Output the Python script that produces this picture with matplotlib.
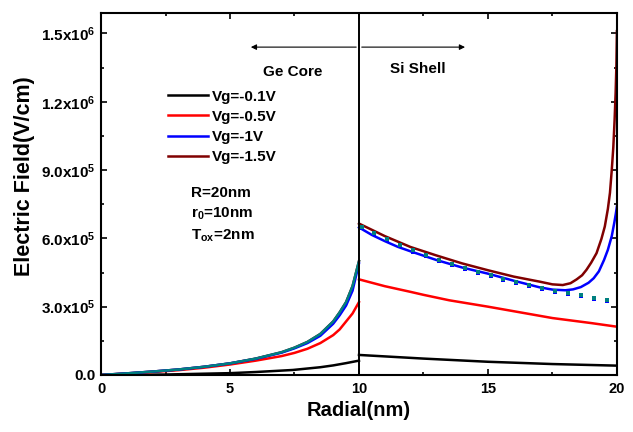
import matplotlib
matplotlib.use("Agg")
import matplotlib.pyplot as plt
from matplotlib.ticker import MultipleLocator, FixedLocator, FixedFormatter

plt.rcParams['font.family'] = ['Liberation Sans', 'DejaVu Sans']
plt.rcParams['font.weight'] = 'bold'
plt.rcParams['mathtext.fontset'] = 'custom'
plt.rcParams['mathtext.rm'] = 'Liberation Sans:bold'
plt.rcParams['mathtext.bf'] = 'Liberation Sans:bold'
plt.rcParams['mathtext.it'] = 'Liberation Sans:bold'

# ---- data (E in units of 1e6 V/cm) ----
# core region (0..10 nm)
core_x_black = [0, 2.5, 5, 6, 7.44, 8.5, 9, 9.5, 10]
core_black = [0, 0.002, 0.008, 0.013, 0.022, 0.034, 0.042, 0.052, 0.063]

core_x = [0, 1, 2, 3, 4, 5, 6, 7, 7.5, 8, 8.5, 9, 9.25, 9.5, 9.75, 10]
core_red = [0, 0.006, 0.013, 0.021, 0.032, 0.046, 0.063, 0.083, 0.097, 0.115, 0.14, 0.175, 0.2, 0.235, 0.27, 0.32]
core_blue = [0, 0.007, 0.015, 0.024, 0.036, 0.051, 0.071, 0.098, 0.117, 0.14, 0.172, 0.225, 0.262, 0.305, 0.37, 0.49]
core_darkred = [0, 0.007, 0.015, 0.024, 0.036, 0.051, 0.072, 0.1, 0.12, 0.145, 0.18, 0.235, 0.275, 0.32, 0.39, 0.50]
core_teal = [0, 0.007, 0.015, 0.024, 0.036, 0.051, 0.072, 0.1, 0.12, 0.145, 0.18, 0.235, 0.275, 0.32, 0.39, 0.50]

# shell region (10..20 nm)
shell_x_black = [10, 12.5, 15, 17.5, 20]
shell_black = [0.088, 0.072, 0.058, 0.048, 0.041]

shell_x_red = [10, 11, 12, 12.5, 13.5, 15, 16, 17.5, 19, 20]
shell_red = [0.42, 0.39, 0.365, 0.352, 0.328, 0.30, 0.28, 0.25, 0.228, 0.212]

shell_x_blue = [10, 10.5, 11, 11.5, 12, 13, 14, 15, 16, 17, 17.5, 18, 18.3, 18.6, 18.9,
                19.1, 19.3, 19.5, 19.65, 19.8, 19.9, 19.96, 20]
shell_blue = [0.648, 0.615, 0.588, 0.563, 0.543, 0.505, 0.472, 0.445, 0.414, 0.385, 0.375, 0.372,
              0.376, 0.386, 0.405, 0.425, 0.455, 0.505, 0.55, 0.61, 0.67, 0.71, 0.74]

shell_x_darkred = [10, 11, 12, 13, 14, 15, 16, 17, 17.5, 17.9, 18.2, 18.44, 18.65, 18.82, 19.0,
                   19.21, 19.4, 19.53, 19.65, 19.73, 19.8, 19.86, 19.91, 19.95, 19.98, 20]
shell_darkred = [0.665, 0.61, 0.562, 0.525, 0.49, 0.46, 0.432, 0.41, 0.398, 0.395, 0.403, 0.42, 0.438,
                 0.462, 0.493, 0.535, 0.598, 0.652, 0.73, 0.80, 0.90, 1.0, 1.12, 1.24, 1.36, 1.51]

dot_x = [10.1, 10.6, 11.1, 11.6, 12.1, 12.6, 13.1, 13.6, 14.1, 14.6,
         15.1, 15.6, 16.1, 16.6, 17.1, 17.6, 18.1, 18.6, 19.1, 19.6]
dot_blue = [0.645, 0.618, 0.592, 0.567, 0.542, 0.521, 0.501, 0.483, 0.466, 0.449,
            0.433, 0.415, 0.402, 0.39, 0.376, 0.366, 0.355, 0.345, 0.334, 0.326]
dot_teal = [0.652, 0.624, 0.598, 0.573, 0.548, 0.527, 0.507, 0.489, 0.471, 0.454,
            0.438, 0.42, 0.407, 0.395, 0.381, 0.371, 0.36, 0.35, 0.339, 0.331]

legend_labels = ['Vg=-0.1V', 'Vg=-0.5V', 'Vg=-1V', 'Vg=-1.5V']
ytick_vals = [0, 0.3, 0.6, 0.9, 1.2, 1.5]
ytick_labels = ['0.0', r'3.0x10$^{5}$', r'6.0x10$^{5}$', r'9.0x10$^{5}$', r'1.2x10$^{6}$', r'1.5x10$^{6}$']
xtick_vals = [0, 5, 10, 15, 20]

S = 1e6

fig = plt.figure(figsize=(6.33, 4.32), dpi=100)
ax = fig.add_axes([0.1596, 0.132, 0.815, 0.838])

lw = 1.8
c_black, c_red, c_blue, c_dr, c_teal = 'black', '#ff0000', '#0000ff', '#800000', '#008080'

# core
ax.plot(core_x_black, [v * S for v in core_black], color=c_black, lw=lw)
ax.plot(core_x, [v * S for v in core_red], color=c_red, lw=lw)
ax.plot(core_x, [v * S for v in core_darkred], color=c_dr, lw=lw)
ax.plot(core_x, [v * S for v in core_blue], color=c_blue, lw=lw)
ax.plot(core_x, [v * S for v in core_teal], color=c_teal, lw=lw)

# shell
l1, = ax.plot(shell_x_black, [v * S for v in shell_black], color=c_black, lw=lw)
l2, = ax.plot(shell_x_red, [v * S for v in shell_red], color=c_red, lw=lw)
l4, = ax.plot(shell_x_darkred, [v * S for v in shell_darkred], color=c_dr, lw=lw)
l3, = ax.plot(shell_x_blue, [v * S for v in shell_blue], color=c_blue, lw=lw)
ax.plot(dot_x, [v * S for v in dot_blue], ls='none', marker='s', ms=3.0, color=c_blue, mew=0)
ax.plot(dot_x, [v * S for v in dot_teal], ls='none', marker='s', ms=3.0, color=c_teal, mew=0)

# boundary line
ax.axvline(10, color='black', lw=1.4)

# arrows
ax.annotate('', xy=(5.7, 1.44e6), xytext=(10, 1.44e6),
            arrowprops=dict(arrowstyle='-|>', color='black', lw=0.8, mutation_scale=8))
ax.annotate('', xy=(14.22, 1.44e6), xytext=(10, 1.44e6),
            arrowprops=dict(arrowstyle='-|>', color='black', lw=0.8, mutation_scale=8))
ax.text(7.44, 1.33e6, 'Ge Core', ha='center', va='center', fontsize=11, fontweight='bold')
ax.text(12.3, 1.345e6, 'Si Shell', ha='center', va='center', fontsize=11, fontweight='bold')

# parameter text
ax.text(3.5, 0.8e6, 'R=20nm', ha='left', va='center', fontsize=11, fontweight='bold')
ax.text(3.5, 0.708e6, r'r$_{0}$=10nm', ha='left', va='center', fontsize=11, fontweight='bold')
ax.text(3.5, 0.612e6, r'T$_{ox}$=2nm', ha='left', va='center', fontsize=11, fontweight='bold')

# legend
leg = ax.legend([l1, l2, l3, l4], legend_labels, loc='upper left',
                bbox_to_anchor=(0.118, 0.805), frameon=False, fontsize=11,
                handlelength=2.6, handletextpad=0.3, labelspacing=0.4,
                borderaxespad=0)
for t in leg.get_texts():
    t.set_fontweight('bold')

ax.set_xlim(0, 20)
ax.set_ylim(0, 1.59e6)
ax.xaxis.set_major_locator(FixedLocator(xtick_vals))
ax.xaxis.set_minor_locator(MultipleLocator(2.5))
ax.yaxis.set_major_locator(FixedLocator([v * S for v in ytick_vals]))
ax.yaxis.set_major_formatter(FixedFormatter(ytick_labels))
ax.yaxis.set_minor_locator(MultipleLocator(0.15e6))
ax.tick_params(which='both', direction='in', top=True, right=True, width=1.2)
ax.tick_params(which='major', length=4.5)
ax.tick_params(which='minor', length=2.5)
ax.tick_params(axis='x', labelsize=10.5, pad=5)
ax.tick_params(axis='y', labelsize=11, pad=4)
for lab in ax.get_xticklabels() + ax.get_yticklabels():
    lab.set_fontweight('bold')
for sp in ax.spines.values():
    sp.set_linewidth(1.5)

ax.set_xlabel('Radial(nm)', fontsize=14.5, fontweight='bold', labelpad=4)
ax.set_ylabel('Electric Field(V/cm)', fontsize=15.5, fontweight='bold', labelpad=6)
ax.yaxis.set_label_coords(-0.128, 0.55)

fig.savefig('out.png', dpi=100)
